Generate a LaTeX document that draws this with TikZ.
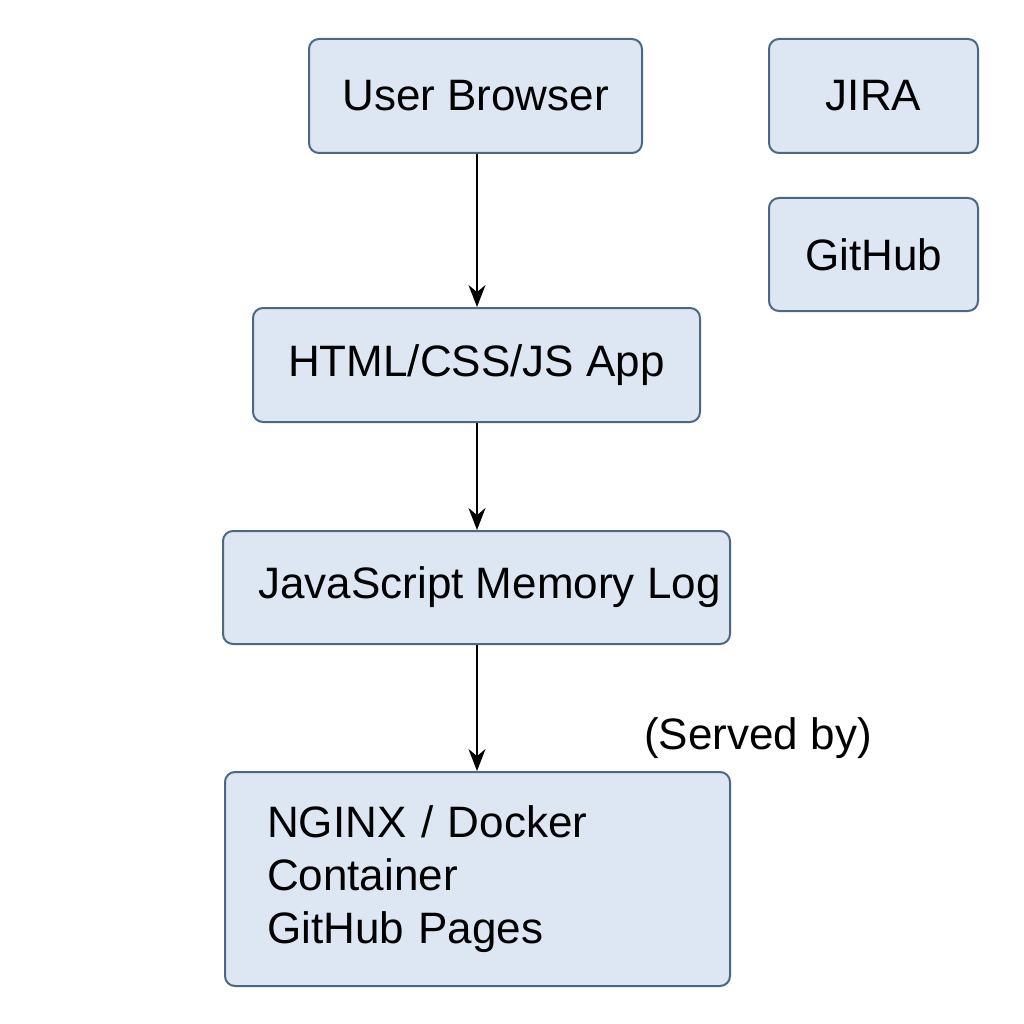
\documentclass[tikz,border=0pt]{standalone}
\usepackage{fontspec}
\setmainfont{Liberation Sans}
\usetikzlibrary{arrows.meta}
\definecolor{boxfill}{HTML}{DDE7F3}
\definecolor{boxline}{HTML}{4E6782}
\tikzset{
  box/.style={draw=boxline, fill=boxfill, line width=2pt, rounded corners=10pt,
    font=\fontsize{44}{53}\selectfont, text=black, inner sep=0pt},
  flow/.style={-{Stealth[length=22pt,width=17pt]}, line width=2pt, black},
}
\begin{document}
\begin{tikzpicture}[x=1pt,y=-1pt]
\useasboundingbox[fill=white] (0,0) rectangle (1024,1024);
\node[box, minimum width=333pt, minimum height=114pt] (ub) at (475.5,96) {User Browser};
\node[box, minimum width=209pt, minimum height=114pt] (jira) at (873.5,96) {JIRA};
\node[box, minimum width=209pt, minimum height=113pt] (gh) at (873.5,254.5) {GitHub};
\node[box, minimum width=447pt, minimum height=114pt] (app) at (476.5,365) {HTML/CSS/JS App};
\node[box, minimum width=507pt, minimum height=113pt] (log) at (476.5,587.5) {\hspace*{26pt}JavaScript Memory Log};
\node[box, minimum width=505pt, minimum height=214pt, align=left, text width=421pt, inner xsep=42pt] (srv) at (477.5,879)
  {NGINX / Docker\\Container\\GitHub Pages};
\node[font=\fontsize{44}{53}\selectfont] (served) at (758,738) {(Served by)};
\draw[flow] (ub.south -| 477,0) -- (app.north -| 477,0);
\draw[flow] (app.south -| 477,0) -- (log.north -| 477,0);
\draw[flow] (log.south -| 477,0) -- (srv.north -| 477,0);
\end{tikzpicture}
\end{document}
